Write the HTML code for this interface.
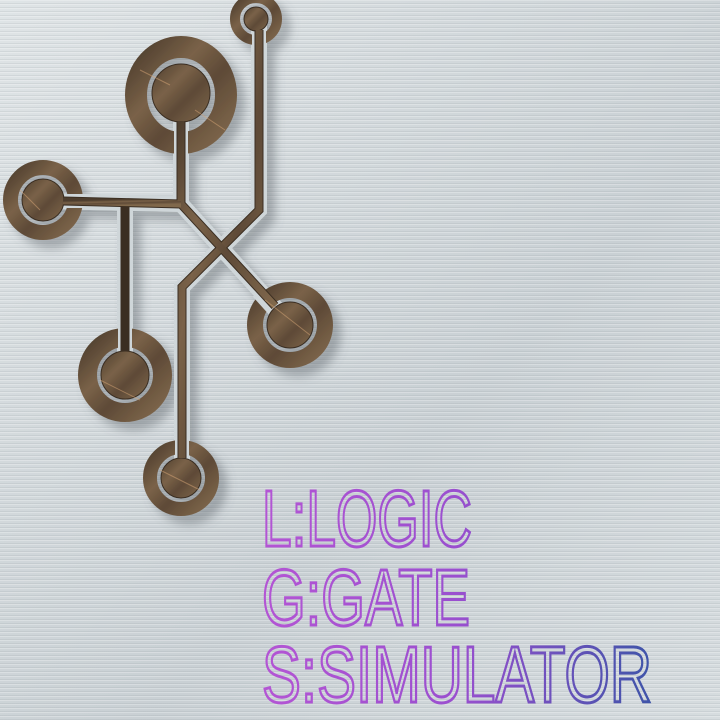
<!DOCTYPE html>
<html><head><meta charset="utf-8"><style>
html,body{margin:0;padding:0;}
body{width:720px;height:720px;overflow:hidden;background:#d3d9dc;
background-image:repeating-linear-gradient(180deg,rgba(255,255,255,.25) 0 1px,rgba(0,0,0,0) 1px 3px,rgba(120,130,135,.12) 3px 4px),linear-gradient(135deg,#dfe4e6,#c9d0d4 60%,#d6dcdf);}
svg{position:absolute;left:0;top:0}
</style></head><body>
<svg width="720" height="720" viewBox="0 0 720 720">
<defs>
<filter id="sh" x="-20%" y="-20%" width="140%" height="140%"><feDropShadow dx="8" dy="8" stdDeviation="5" flood-color="#5a6468" flood-opacity="0.45"/></filter>
<linearGradient id="cu" x1="0" y1="0" x2="1" y2="1">
<stop offset="0" stop-color="#4e3e2e"/><stop offset=".35" stop-color="#7a6248"/><stop offset=".6" stop-color="#5e4a37"/><stop offset="1" stop-color="#80684c"/></linearGradient>
<linearGradient id="tg" x1="260" y1="0" x2="655" y2="0" gradientUnits="userSpaceOnUse">
<stop offset="0" stop-color="#b455d4"/><stop offset=".5" stop-color="#9a4fcf"/><stop offset="1" stop-color="#3d54a8"/></linearGradient>
</defs>
<g filter="url(#sh)">
 <g fill="none" stroke="#cfd6d9" stroke-width="16" stroke-linejoin="miter">
  <polyline points="259,18 259,210 182,287 182,478"/>
  <polyline points="181,93 181,204 285,318"/>
  <polyline points="43,201 181,204"/>
  <polyline points="125,204 125,375"/>
 </g>
 <g fill="none" stroke="url(#cu)" stroke-linecap="butt">
  <circle cx="256" cy="19" r="21" stroke-width="10"/>
  <ellipse cx="181" cy="95" rx="45" ry="48" stroke-width="22"/>
  <circle cx="43" cy="200" r="32.5" stroke-width="15"/>
  <circle cx="290" cy="325" r="35" stroke-width="16"/>
  <circle cx="125" cy="375" r="37.5" stroke-width="19"/>
  <circle cx="181" cy="478" r="31" stroke-width="14"/>
 </g>
 <g stroke="#cfd6d9" stroke-width="14">
  <line x1="259" y1="30" x2="259" y2="48"/>
  <line x1="181" y1="120" x2="181" y2="158"/>
  <line x1="62" y1="201" x2="86" y2="201"/>
  <line x1="125" y1="320" x2="125" y2="352"/>
  <line x1="182" y1="440" x2="182" y2="460"/>
  <line x1="258" y1="292" x2="276" y2="312"/>
 </g>
 <g fill="url(#cu)" stroke="#3a2d20" stroke-width="1">
  <circle cx="256" cy="19" r="12"/>
  <circle cx="181" cy="93" r="29"/>
  <circle cx="43" cy="200" r="21"/>
  <circle cx="290" cy="325" r="23"/>
  <circle cx="125" cy="375" r="24"/>
  <circle cx="181" cy="478" r="20"/>
 </g>
 <g fill="none" stroke="#3a2d20" stroke-width="9" stroke-linejoin="miter">
  <polyline points="259,30 259,210 182,287 182,458"/>
  <polyline points="181,121 181,204 275,306"/>
  <polyline points="63,201 181,204"/>
  <polyline points="125,204 125,351"/>
 </g>
 <g fill="none" stroke="url(#cu)" stroke-width="7" stroke-linejoin="miter">
  <polyline points="259,30 259,210 182,287 182,458"/>
  <polyline points="181,121 181,204 275,306"/>
  <polyline points="63,201 181,204"/>
  <polyline points="125,204 125,351"/>
 </g>
</g>
<g stroke="#d9a878" stroke-width="1" opacity=".5">
 <line x1="140" y1="70" x2="170" y2="85"/><line x1="195" y1="110" x2="225" y2="130"/>
 <line x1="265" y1="300" x2="310" y2="335"/><line x1="100" y1="380" x2="140" y2="400"/>
 <line x1="160" y1="470" x2="200" y2="490"/><line x1="20" y1="190" x2="40" y2="210"/>
</g>
<g font-family="'Liberation Sans Narrow','Liberation Sans',sans-serif" font-size="80" fill="none" stroke="url(#tg)" stroke-width="3">
  <text x="262" y="546" textLength="210" lengthAdjust="spacingAndGlyphs">L:LOGIC</text>
  <text x="262" y="625" textLength="208" lengthAdjust="spacingAndGlyphs">G:GATE</text>
  <text x="262" y="702" textLength="390" lengthAdjust="spacingAndGlyphs">S:SIMULATOR</text>
</g>
</svg>
</body></html>
